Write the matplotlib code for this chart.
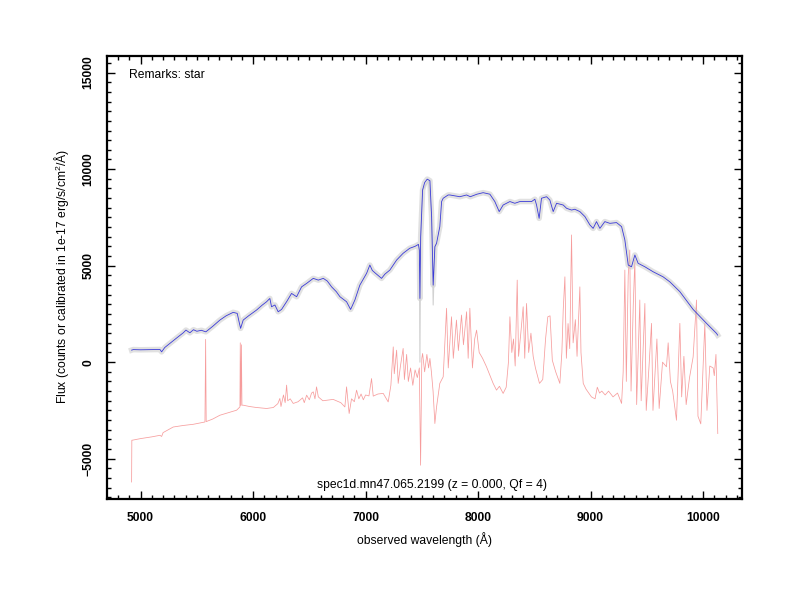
import matplotlib
matplotlib.use("Agg")
import matplotlib.pyplot as plt
from matplotlib.ticker import MultipleLocator

plt.rcParams['font.family'] = ['Liberation Sans', 'DejaVu Sans']
plt.rcParams['mathtext.fontset'] = 'custom'
plt.rcParams['mathtext.rm'] = 'Liberation Sans'
plt.rcParams['mathtext.it'] = 'Liberation Sans'

# ---- data ----
blue_wave = [4920, 4935, 5000, 5100, 5172, 5187, 5215, 5260, 5320, 5379, 5403, 5438, 5470, 5500,
             5540, 5580, 5640, 5705, 5760, 5823, 5859, 5875, 5889, 5912, 5960, 6031, 6080, 6120,
             6149, 6164, 6194, 6223, 6253, 6300, 6342, 6387, 6431, 6476, 6535, 6580, 6624, 6660,
             6698, 6740, 6772, 6831, 6867, 6905, 6949, 7009, 7038, 7060, 7083, 7142, 7172, 7216,
             7276, 7334, 7393, 7440, 7470, 7478, 7483, 7490, 7507, 7525, 7548, 7572, 7587, 7601,
             7616, 7631, 7660, 7676, 7690, 7734, 7749, 7838, 7898, 7931, 7990, 8045, 8105, 8149,
             8188, 8223, 8283, 8327, 8372, 8476, 8505, 8520, 8543, 8564, 8609, 8638, 8668, 8698,
             8757, 8787, 8831, 8860, 8905, 8950, 8994, 9023, 9053, 9083, 9127, 9172, 9231, 9276,
             9305, 9335, 9364, 9394, 9423, 9483, 9557, 9645, 9705, 9794, 9912, 10031, 10120, 10130]
blue_flux = [622, 650, 640, 650, 657, 534, 760, 970, 1250, 1520, 1660, 1520, 1680, 1600,
             1650, 1570, 1850, 2180, 2400, 2580, 2525, 2100, 1750, 2180, 2400, 2700, 2950, 3130,
             3300, 2870, 2960, 2610, 2730, 3150, 3560, 3390, 3900, 4080, 4340, 4250, 4340, 4200,
             3900, 3650, 3390, 3130, 2730, 3220, 3990, 4600, 5030, 4750, 4630, 4340, 4560, 4770,
             5290, 5640, 5900, 6000, 6100, 5800, 3300, 6500, 8920, 9300, 9480, 9400, 7540, 3990,
             5980, 6160, 7020, 8320, 8490, 8660, 8660, 8570, 8660, 8570, 8700, 8780, 8700, 8320,
             7800, 8140, 8320, 8230, 8320, 8320, 8440, 8140, 7450, 8490, 8570, 8400, 7800, 8230,
             8140, 7970, 7880, 7920, 7800, 7540, 7110, 6930, 7280, 6930, 7280, 7190, 7230, 7020,
             6330, 5030, 4940, 5550, 5120, 4940, 4680, 4420, 4160, 3650, 2730, 2010, 1490, 1400]

# raw (gray) spectrum extra depth at the telluric bands
gray_dip_wave = [7470, 7478, 7483, 7490, 7507, 7560, 7587, 7601, 7616, 7631]
gray_dip_flux = [6100, 5800, 0, 6500, 8920, 9400, 7540, 2960, 5980, 6160]

red_wave = [4920, 4922, 4930, 5000, 5100, 5172, 5187, 5200, 5290, 5380, 5468, 5572, 5578, 5583,
            5640, 5705, 5780, 5853, 5883, 5886, 5891, 5896, 5901, 5912, 5970, 6031, 6080, 6120,
            6180, 6220, 6238, 6248, 6270, 6285, 6298, 6308, 6330, 6357, 6400, 6440, 6455, 6476,
            6500, 6520, 6535, 6550, 6564, 6580, 6620, 6712, 6780, 6816, 6831, 6845, 6854, 6875,
            6900, 6920, 6940, 6960, 6980, 7000, 7030, 7053, 7068, 7110, 7157, 7201, 7225, 7246,
            7255, 7276, 7290, 7310, 7334, 7345, 7365, 7380, 7400, 7420, 7440, 7460, 7478, 7489,
            7500, 7507, 7525, 7545, 7560, 7572, 7585, 7600, 7616, 7631, 7660, 7690, 7720, 7735,
            7764, 7780, 7808, 7825, 7853, 7870, 7898, 7912, 7927, 7950, 7970, 7987, 8010, 8040,
            8075, 8100, 8134, 8164, 8190, 8223, 8250, 8270, 8283, 8300, 8315, 8330, 8348, 8360,
            8380, 8401, 8415, 8431, 8450, 8470, 8490, 8510, 8546, 8575, 8600, 8620, 8640, 8660,
            8690, 8727, 8745, 8757, 8772, 8785, 8800, 8815, 8831, 8845, 8865, 8880, 8905, 8915,
            8935, 8960, 9008, 9040, 9060, 9080, 9100, 9130, 9160, 9200, 9240, 9276, 9290, 9305,
            9318, 9335, 9349, 9360, 9380, 9394, 9410, 9438, 9450, 9483, 9495, 9520, 9542, 9555,
            9590, 9610, 9640, 9675, 9690, 9710, 9730, 9764, 9794, 9810, 9830, 9850, 9880, 9912,
            9942, 9955, 9980, 10016, 10035, 10060, 10090, 10100, 10115, 10131]
red_flux = [-6210, -4046, -4040, -3960, -3870, -3790, -3850, -3650, -3360, -3280, -3220, -3100, 1180, -3080,
            -2950, -2750, -2620, -2490, -2320, 1000, -2250, 900, -2230, -2230, -2300, -2350, -2380, -2400,
            -2350, -2150, -1880, -2300, -1700, -2100, -1190, -2000, -1900, -2140, -2050, -1850, -2100, -1710,
            -1950, -1600, -1540, -1900, -1280, -1800, -2000, -1930, -2100, -2320, -1280, -2100, -2660, -1900,
            -2050, -1450, -1900, -1650, -1950, -1700, -1750, -850, -1760, -1650, -1620, -2060, -1200, 790,
            -600, 620, -1100, -200, 710, -900, 400, -1000, -300, -1200, -400, -800, -300, -5340,
            200, 450, -500, 400, -300, 190, -500, -1500, -3180, -2320, -1100, -760, 2790, -300,
            2350, 200, 2180, 600, 2440, 900, 2610, 200, 2790, -300, 1200, 1660, 500, 200,
            -240, -600, -1100, -1450, -1250, -1620, -1300, 0, 2350, 500, 1200, -200, 4250, 300,
            1500, 2870, 200, 3040, 500, 1500, 300, -300, -1100, -900, 1200, 2350, 2400, 100,
            -500, -1100, 500, 2700, 4420, 200, 2000, 700, 6590, 1000, 2200, 300, 3900, 500,
            -1100, -1400, -1800, -1900, -1300, -1600, -1500, -1700, -1500, -1800, -1600, -2140, -500, 4770,
            -1000, 4500, 5810, -1500, 3000, 5290, -2200, 3220, -2000, 3040, -2500, -200, 2010, -2500,
            1200, -2400, 0, -240, 1000, -1000, -1500, -3010, 2010, -1800, 300, -2200, -800, 270,
            3220, -2800, -3200, 2010, -2500, -200, -300, -700, 400, -3700]

x_ticks = [5000, 6000, 7000, 8000, 9000, 10000]
y_ticks = [-5000, 0, 5000, 10000, 15000]
remarks_text = "Remarks: star"
id_text = "spec1d.mn47.065.2199 (z = 0.000, Qf = 4)"

# ---- figure ----
fig = plt.figure(figsize=(8, 6), dpi=100)
ax = fig.add_axes([0.134, 0.168, 0.794, 0.739])

ax.plot(red_wave, red_flux, color='#ee3b3b', lw=0.55, alpha=0.5, zorder=1)
ax.plot(blue_wave, blue_flux, color='#c4c4c4', lw=4.0, alpha=0.5, solid_joinstyle='round', zorder=2)
ax.plot(gray_dip_wave, gray_dip_flux, color='#d2d2d2', lw=0.8, zorder=2)
ax.plot(blue_wave, blue_flux, color='#3a3ad8', lw=0.6, zorder=3)

ax.set_xlim(4703, 10350)
ax.set_ylim(-7100, 15870)
ax.set_xticks(x_ticks)
ax.set_yticks(y_ticks)
ax.xaxis.set_minor_locator(MultipleLocator(100))
ax.yaxis.set_minor_locator(MultipleLocator(500))
ax.tick_params(which='both', direction='in', top=True, right=True, width=1.0)
ax.tick_params(which='major', length=6, pad=9)
ax.tick_params(which='minor', length=3)
for lab in ax.get_xticklabels():
    lab.set_fontsize(8.7)
    lab.set_fontweight('bold')
for lab in ax.get_yticklabels():
    lab.set_fontsize(8.7)
    lab.set_fontweight('bold')
    lab.set_rotation(90)
    lab.set_va('center')
for sp in ax.spines.values():
    sp.set_linewidth(1.6)

ax.set_xlabel("observed wavelength (Å)", fontsize=8.7, va='center')
ax.set_ylabel("Flux (counts or calibrated in 1e-17 erg/s/cm$^2$/Å)", fontsize=8.7, va='center')
ax.xaxis.set_label_coords(0.5, -0.0903)
ax.yaxis.set_label_coords(-0.0717, 0.502)

ax.text(0.035, 0.957, remarks_text, transform=ax.transAxes, fontsize=8.7, va='center', ha='left')
ax.text(0.511, 0.032, id_text, transform=ax.transAxes, fontsize=8.7, va='center', ha='center')

fig.savefig("out.png", dpi=100)
